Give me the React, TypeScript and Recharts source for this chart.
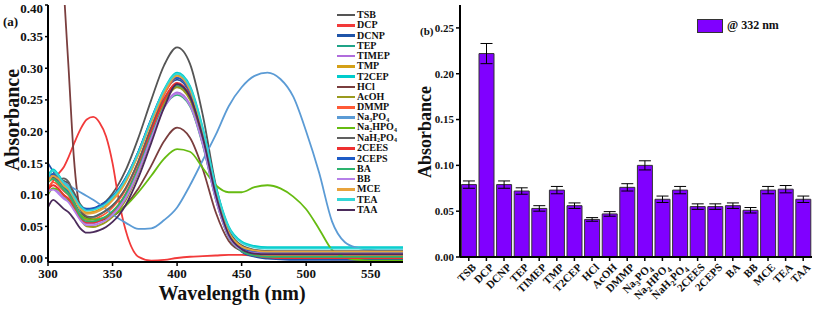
import React from 'react'
import {
  LineChart, Line, BarChart, Bar, XAxis, YAxis, ErrorBar, Legend, Label,
} from 'recharts'

const FONT = '"Liberation Serif", "Times New Roman", serif'

// ---- panel (a): absorption spectra ----
const WL = [300, 304, 308, 312, 316, 320, 325, 330, 335, 340, 345, 350, 355, 360, 370, 380, 390, 400, 410, 420, 430, 440, 450, 460, 470, 480, 490, 500, 510, 520, 530, 540, 550, 560, 575]

const TSB = [0.125, 0.13, 0.127, 0.122, 0.118, 0.104, 0.085, 0.076, 0.077, 0.083, 0.09, 0.102, 0.118, 0.138, 0.19, 0.25, 0.305, 0.333, 0.307, 0.225, 0.115, 0.045, 0.02, 0.013, 0.011, 0.01, 0.01, 0.01, 0.01, 0.01, 0.01, 0.01, 0.01, 0.01, 0.01]
const DCP = [0.108, 0.122, 0.133, 0.143, 0.16, 0.18, 0.203, 0.219, 0.223, 0.214, 0.192, 0.15, 0.09, 0.045, 0.002, -0.004, -0.003, 0.0, 0.002, 0.003, 0.004, 0.005, 0.005, 0.004, 0.003, 0.002, 0.001, 0.0, -0.001, -0.002, -0.002, -0.003, -0.003, -0.003, -0.003]
const DCNP = [0.15, 0.137, 0.126, 0.113, 0.104, 0.093, 0.082, 0.078, 0.079, 0.083, 0.089, 0.098, 0.11, 0.126, 0.168, 0.218, 0.262, 0.282, 0.26, 0.19, 0.098, 0.035, 0.01, 0.002, -0.001, -0.002, -0.003, -0.003, -0.003, -0.003, -0.003, -0.003, -0.003, -0.003, -0.003]
const TEP = [0.12, 0.128, 0.122, 0.112, 0.104, 0.09, 0.072, 0.065, 0.065, 0.069, 0.075, 0.083, 0.094, 0.109, 0.152, 0.204, 0.25, 0.272, 0.252, 0.186, 0.098, 0.036, 0.014, 0.008, 0.006, 0.005, 0.005, 0.005, 0.005, 0.005, 0.005, 0.005, 0.005, 0.005, 0.005]
const TIMEP = [0.105, 0.11, 0.104, 0.096, 0.09, 0.078, 0.062, 0.055, 0.055, 0.058, 0.063, 0.071, 0.082, 0.097, 0.14, 0.193, 0.24, 0.262, 0.243, 0.18, 0.093, 0.033, 0.011, 0.005, 0.003, 0.003, 0.003, 0.003, 0.003, 0.003, 0.003, 0.003, 0.003, 0.003, 0.003]
const TMP = [0.125, 0.133, 0.127, 0.117, 0.11, 0.096, 0.079, 0.072, 0.073, 0.077, 0.083, 0.093, 0.105, 0.121, 0.165, 0.217, 0.264, 0.289, 0.267, 0.197, 0.104, 0.04, 0.018, 0.011, 0.009, 0.008, 0.008, 0.008, 0.008, 0.008, 0.008, 0.008, 0.008, 0.008, 0.008]
const T2CEP = [0.13, 0.14, 0.132, 0.12, 0.112, 0.099, 0.083, 0.076, 0.077, 0.081, 0.087, 0.097, 0.109, 0.125, 0.168, 0.22, 0.267, 0.293, 0.272, 0.205, 0.113, 0.05, 0.026, 0.019, 0.017, 0.017, 0.017, 0.017, 0.017, 0.017, 0.017, 0.017, 0.017, 0.017, 0.017]
const HCL = [1.0, 0.8, 0.6, 0.434, 0.298, 0.16, 0.078, 0.064, 0.061, 0.06, 0.062, 0.066, 0.073, 0.083, 0.11, 0.146, 0.185, 0.206, 0.19, 0.14, 0.072, 0.027, 0.012, 0.009, 0.008, 0.008, 0.008, 0.008, 0.008, 0.008, 0.008, 0.008, 0.008, 0.008, 0.008]
const ACOH = [0.12, 0.125, 0.118, 0.108, 0.1, 0.085, 0.062, 0.05, 0.049, 0.052, 0.057, 0.065, 0.076, 0.091, 0.135, 0.19, 0.245, 0.27, 0.25, 0.185, 0.097, 0.035, 0.013, 0.007, 0.005, 0.005, 0.005, 0.005, 0.005, 0.005, 0.005, 0.005, 0.005, 0.005, 0.005]
const DMMP = [0.11, 0.12, 0.115, 0.106, 0.099, 0.086, 0.068, 0.06, 0.061, 0.065, 0.071, 0.08, 0.092, 0.108, 0.153, 0.207, 0.258, 0.285, 0.263, 0.193, 0.1, 0.036, 0.012, 0.005, 0.003, 0.003, 0.003, 0.003, 0.003, 0.003, 0.003, 0.003, 0.003, 0.003, 0.003]
const NA3PO4 = [0.13, 0.127, 0.124, 0.12, 0.115, 0.11, 0.104, 0.098, 0.092, 0.085, 0.077, 0.069, 0.062, 0.056, 0.046, 0.047, 0.06, 0.08, 0.115, 0.155, 0.195, 0.24, 0.27, 0.288, 0.293, 0.283, 0.255, 0.2, 0.135, 0.058, 0.025, 0.016, 0.013, 0.012, 0.012]
const NA2HPO4 = [0.1, 0.11, 0.108, 0.1, 0.092, 0.08, 0.068, 0.062, 0.061, 0.062, 0.064, 0.068, 0.074, 0.082, 0.104, 0.13, 0.157, 0.172, 0.168, 0.142, 0.115, 0.104, 0.104, 0.112, 0.115, 0.11, 0.097, 0.077, 0.046, 0.013, 0.001, -0.003, -0.004, -0.004, -0.004]
const NAH2PO4 = [0.12, 0.128, 0.123, 0.126, 0.12, 0.1, 0.078, 0.066, 0.065, 0.069, 0.075, 0.083, 0.095, 0.11, 0.153, 0.206, 0.252, 0.275, 0.255, 0.19, 0.1, 0.038, 0.017, 0.012, 0.011, 0.011, 0.011, 0.011, 0.011, 0.011, 0.011, 0.011, 0.011, 0.011, 0.011]
const CEES = [0.108, 0.115, 0.11, 0.1, 0.094, 0.082, 0.064, 0.056, 0.056, 0.059, 0.065, 0.073, 0.085, 0.101, 0.145, 0.2, 0.25, 0.277, 0.256, 0.19, 0.1, 0.036, 0.012, 0.004, 0.001, 0.0, 0.0, 0.0, 0.0, 0.0, 0.0, 0.0, 0.0, 0.0, 0.0]
const CEPS = [0.13, 0.133, 0.125, 0.115, 0.107, 0.095, 0.081, 0.077, 0.078, 0.082, 0.088, 0.097, 0.109, 0.125, 0.168, 0.22, 0.265, 0.285, 0.263, 0.194, 0.102, 0.04, 0.016, 0.01, 0.009, 0.009, 0.009, 0.009, 0.009, 0.009, 0.009, 0.009, 0.009, 0.009, 0.009]
const BA = [0.12, 0.125, 0.118, 0.108, 0.1, 0.086, 0.066, 0.058, 0.058, 0.061, 0.066, 0.074, 0.085, 0.1, 0.142, 0.194, 0.239, 0.258, 0.24, 0.178, 0.093, 0.033, 0.011, 0.004, 0.002, 0.002, 0.002, 0.002, 0.002, 0.002, 0.002, 0.002, 0.002, 0.002, 0.002]
const BB = [0.105, 0.108, 0.102, 0.094, 0.088, 0.076, 0.06, 0.052, 0.052, 0.055, 0.06, 0.068, 0.079, 0.094, 0.137, 0.19, 0.238, 0.26, 0.241, 0.179, 0.093, 0.034, 0.013, 0.008, 0.007, 0.007, 0.007, 0.007, 0.007, 0.007, 0.007, 0.007, 0.007, 0.007, 0.007]
const MCE = [0.12, 0.13, 0.125, 0.115, 0.108, 0.095, 0.078, 0.07, 0.071, 0.075, 0.081, 0.091, 0.103, 0.119, 0.163, 0.215, 0.262, 0.288, 0.266, 0.197, 0.104, 0.041, 0.018, 0.012, 0.01, 0.01, 0.01, 0.01, 0.01, 0.01, 0.01, 0.01, 0.01, 0.01, 0.01]
const TEA = [0.128, 0.138, 0.13, 0.119, 0.111, 0.098, 0.082, 0.075, 0.076, 0.08, 0.086, 0.096, 0.108, 0.124, 0.167, 0.219, 0.266, 0.291, 0.27, 0.203, 0.111, 0.048, 0.024, 0.017, 0.015, 0.015, 0.015, 0.015, 0.015, 0.015, 0.015, 0.015, 0.015, 0.015, 0.015]
const TAA = [0.08, 0.092, 0.086, 0.078, 0.072, 0.062, 0.047, 0.04, 0.041, 0.044, 0.049, 0.057, 0.068, 0.083, 0.127, 0.182, 0.238, 0.275, 0.255, 0.19, 0.1, 0.037, 0.014, 0.007, 0.006, 0.006, 0.006, 0.006, 0.006, 0.006, 0.006, 0.006, 0.006, 0.006, 0.006]

const WL_TICKS = [300, 350, 400, 450, 500, 550]
const ABS_TICKS_A = [0, 0.05, 0.1, 0.15, 0.2, 0.25, 0.3, 0.35, 0.4]

const SERIES = [
  { name: 'TSB', color: '#555555', values: TSB },
  { name: 'DCP', color: '#f23a3a', values: DCP },
  { name: 'DCNP', color: '#1f54a8', values: DCNP },
  { name: 'TEP', color: '#1fa387', values: TEP },
  { name: 'TIMEP', color: '#b06cdc', values: TIMEP },
  { name: 'TMP', color: '#d4a017', values: TMP },
  { name: 'T2CEP', color: '#00cccc', values: T2CEP },
  { name: 'HCl', color: '#7a3e3e', values: HCL },
  { name: 'AcOH', color: '#9a9a1e', values: ACOH },
  { name: 'DMMP', color: '#ff5a36', values: DMMP },
  { name: 'Na3PO4', color: '#5b9bd5', values: NA3PO4 },
  { name: 'Na2HPO4', color: '#66bb11', values: NA2HPO4 },
  { name: 'NaH2PO4', color: '#606060', values: NAH2PO4 },
  { name: '2CEES', color: '#ee3030', values: CEES },
  { name: '2CEPS', color: '#1e5bc6', values: CEPS },
  { name: 'BA', color: '#2db36e', values: BA },
  { name: 'BB', color: '#b57fe8', values: BB },
  { name: 'MCE', color: '#e8a33c', values: MCE },
  { name: 'TEA', color: '#33d6d6', values: TEA },
  { name: 'TAA', color: '#4b2b5b', values: TAA },
]
const ORDER = SERIES.map((s) => s.name)

const spectra = WL.map((wl, i) => {
  const row: Record<string, number> = { wl }
  SERIES.forEach((s) => { row[s.name] = s.values[i] })
  return row
})

// ---- panel (b): absorbance at 332 nm ----
const ANALYTES = ['TSB', 'DCP', 'DCNP', 'TEP', 'TIMEP', 'TMP', 'T2CEP', 'HCl', 'AcOH', 'DMMP', 'Na3PO4', 'Na2HPO4', 'NaH2PO4', '2CEES', '2CEPS', 'BA', 'BB', 'MCE', 'TEA', 'TAA']
const ABS_332 = [0.079, 0.222, 0.079, 0.072, 0.053, 0.073, 0.056, 0.041, 0.047, 0.076, 0.1, 0.063, 0.073, 0.055, 0.055, 0.056, 0.051, 0.073, 0.074, 0.063]
const ERR_332 = [0.004, 0.011, 0.004, 0.0035, 0.003, 0.004, 0.003, 0.002, 0.0025, 0.004, 0.005, 0.0035, 0.004, 0.003, 0.003, 0.003, 0.003, 0.004, 0.004, 0.0035]
const ABS_TICKS_B = [0, 0.05, 0.1, 0.15, 0.2, 0.25]

const bars = ANALYTES.map((name, i) => ({ name, abs: ABS_332[i], err: ERR_332[i] }))

// chemical formulas: odd parts are subscripts
const SUBS: Record<string, string[]> = {
  Na3PO4: ['Na', '3', 'PO', '4'],
  Na2HPO4: ['Na', '2', 'HPO', '4'],
  NaH2PO4: ['NaH', '2', 'PO', '4'],
}

const htmlName = (name: string) => {
  const parts = SUBS[name]
  if (!parts) return name
  return parts.map((p, i) => (i % 2
    ? <span key={i} style={{ fontSize: '0.6em', position: 'relative', top: '0.25em' }}>{p}</span>
    : <span key={i}>{p}</span>))
}

const svgName = (name: string, size: number) => {
  const parts = SUBS[name]
  if (!parts) return name
  return parts.map((p, i) => (
    <tspan key={i} dy={i === 0 ? 0 : i % 2 ? 3 : -3} fontSize={i % 2 ? size * 0.72 : size}>{p}</tspan>
  ))
}

const SpectraLegend = ({ payload }: any) => {
  const items = [...(payload || [])].sort((a: any, b: any) => ORDER.indexOf(a.value) - ORDER.indexOf(b.value))
  return (
    <div style={{ fontFamily: FONT, fontWeight: 'bold', fontSize: 10, color: '#111' }}>
      {items.map((e: any) => (
        <div key={e.value} style={{ display: 'flex', alignItems: 'center', height: 10.26, lineHeight: '10px', overflow: 'visible' }}>
          <span style={{ width: 18, height: 2.5, background: e.color, marginRight: 2, display: 'inline-block' }} />
          <span style={{ whiteSpace: 'nowrap' }}>{htmlName(e.value)}</span>
        </div>
      ))}
    </div>
  )
}

const BarLegend = () => (
  <div style={{ display: 'flex', alignItems: 'center', fontFamily: FONT, fontWeight: 'bold', fontSize: 12, color: '#111' }}>
    <span style={{ width: 24, height: 12, background: '#8000ff', border: '1px solid #333', marginRight: 4, display: 'inline-block' }} />
    <span>@ 332 nm</span>
  </div>
)

const AnalyteTick = ({ x, y, payload }: any) => {
  const ax = x + 8
  const ay = y + 5
  return (
    <text x={ax} y={ay} transform={`rotate(-45 ${ax} ${ay})`} textAnchor="end"
      fontFamily={FONT} fontWeight="bold" fontSize={11} fill="#111">
      {svgName(payload.value, 11)}
    </text>
  )
}

const tickA = { fontFamily: FONT, fontWeight: 'bold', fontSize: 13, fill: '#111' }
const tickB = { fontFamily: FONT, fontWeight: 'bold', fontSize: 11, fill: '#111' }
const axisLine = { stroke: '#000', strokeWidth: 2 }
const tickLine = { stroke: '#000', strokeWidth: 1.5 }

export default function App() {
  return (
    <div style={{ position: 'absolute', left: 0, top: 0, width: 817, height: 309, background: '#fff' }}>
      <div style={{ position: 'absolute', left: 0, top: 0 }}>
        <LineChart width={410} height={309} data={spectra} margin={{ top: 5, right: 7, left: 0, bottom: 0 }}>
          <XAxis dataKey="wl" type="number" domain={[300, 575]} ticks={WL_TICKS} allowDataOverflow
            height={47} tick={tickA} tickSize={4} tickMargin={3} axisLine={axisLine} tickLine={tickLine}>
            <Label content={() => (
              <text x={232} y={300} textAnchor="middle" fontFamily={FONT} fontWeight="bold" fontSize={20} fill="#111">
                Wavelength (nm)
              </text>
            )} />
          </XAxis>
          <YAxis type="number" domain={[-0.0063, 0.4]} ticks={ABS_TICKS_A} allowDataOverflow
            width={48} tick={tickA} tickSize={3} tickMargin={2} axisLine={axisLine} tickLine={tickLine}
            tickFormatter={(v: number) => v.toFixed(2)}>
            <Label content={() => (
              <text x={19} y={120} transform="rotate(-90 19 120)" textAnchor="middle" fontFamily={FONT}
                fontWeight="bold" fontSize={20} fill="#111">
                Absorbance
              </text>
            )} />
          </YAxis>
          <XAxis xAxisId="top" orientation="top" type="number" domain={[0, 1]} height={0}
            tick={false} tickLine={false} axisLine={axisLine} />
          <YAxis yAxisId="right" orientation="right" type="number" domain={[0, 1]} width={0}
            tick={false} tickLine={false} axisLine={axisLine} />
          <Legend layout="vertical" align="center" verticalAlign="middle" content={<SpectraLegend />}
            wrapperStyle={{ left: 337, top: 10, width: 'auto' }} />
          {SERIES.map((s) => (
            <Line key={s.name} dataKey={s.name} name={s.name} type="monotone" stroke={s.color}
              strokeWidth={1.8} dot={false} isAnimationActive={false} />
          ))}
        </LineChart>
        <div style={{ position: 'absolute', left: 3, top: 14, fontFamily: FONT, fontWeight: 'bold', fontSize: 13, color: '#111' }}>(a)</div>
      </div>

      <div style={{ position: 'absolute', left: 410, top: 0 }}>
        <BarChart width={407} height={309} data={bars} margin={{ top: 5, right: 5, left: 0, bottom: 0 }}
          barCategoryGap="8%">
          <XAxis dataKey="name" height={52} interval={0} tick={<AnalyteTick />} tickSize={4} tickMargin={2}
            axisLine={axisLine} tickLine={tickLine} />
          <YAxis type="number" domain={[0, 0.275]} ticks={ABS_TICKS_B} allowDataOverflow width={50}
            tick={tickB} tickSize={4} tickMargin={2} axisLine={axisLine} tickLine={tickLine}
            tickFormatter={(v: number) => v.toFixed(2)}>
            <Label content={() => (
              <text x={15} y={132} transform="rotate(-90 15 132)" textAnchor="middle" dominantBaseline="central"
                fontFamily={FONT} fontWeight="bold" fontSize={18} fill="#111">
                Absorbance
              </text>
            )} />
          </YAxis>
          <XAxis xAxisId="top" orientation="top" type="number" domain={[0, 1]} height={0}
            tick={false} tickLine={false} axisLine={axisLine} />
          <YAxis yAxisId="right" orientation="right" type="number" domain={[0, 1]} width={0}
            tick={false} tickLine={false} axisLine={axisLine} />
          <Legend layout="vertical" align="center" verticalAlign="middle" content={<BarLegend />}
            wrapperStyle={{ left: 287, top: 18, width: 'auto' }} />
          <Bar dataKey="abs" name="@ 332 nm" fill="#8000ff" stroke="#333" strokeWidth={1} isAnimationActive={false}>
            <ErrorBar dataKey="err" width={6} stroke="#000" strokeWidth={1} />
          </Bar>
        </BarChart>
        <div style={{ position: 'absolute', left: 10, top: 25, fontFamily: FONT, fontWeight: 'bold', fontSize: 11, color: '#111' }}>(b)</div>
      </div>
    </div>
  )
}
